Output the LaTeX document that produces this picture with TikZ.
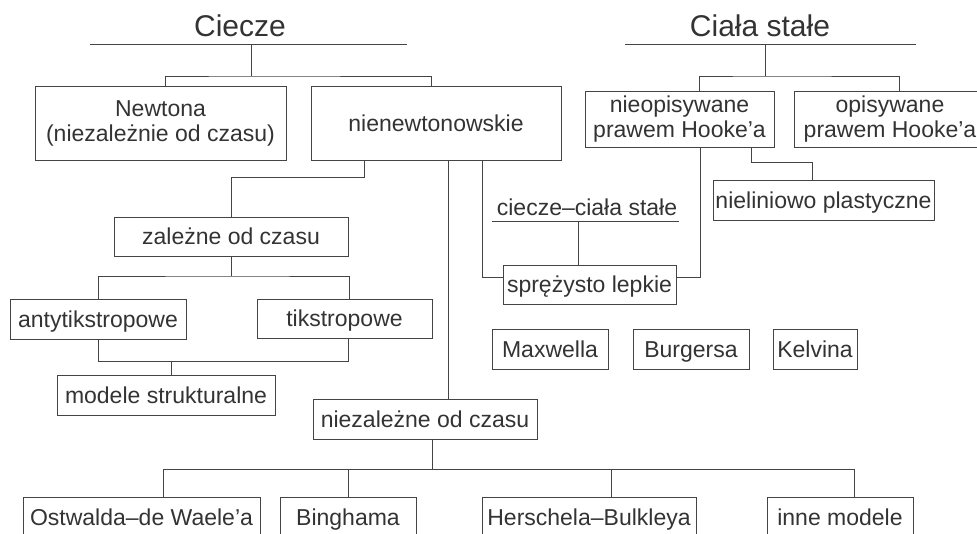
\documentclass[tikz,border=0pt]{standalone}
\usepackage{fontspec}
\setmainfont{Liberation Sans}
\definecolor{ink}{HTML}{333333}
\definecolor{wire}{HTML}{444444}
\tikzset{
  twobox/.style={draw=wire, line width=1pt, inner sep=0pt, align=center, text=ink,
    font=\fontsize{23}{25}\selectfont},
  box/.style={twobox, text height=16.5pt, text depth=0pt},
  title/.style={text=ink, inner sep=0pt, anchor=base, font=\fontsize{30}{32}\selectfont},
  label/.style={text=ink, inner sep=0pt, anchor=base, font=\fontsize{23}{25}\selectfont},
}
\begin{document}
\begin{tikzpicture}[x=1pt, y=-1pt, wire, line width=1pt]
    \useasboundingbox (0,0) rectangle (977,533);
    % titles
    \node[title] (ciecze) at (240,36) {Ciecze};
    \node[title] (cialo) at (760,36) {Ciała stałe};
    \node[label] (cc) at (587,215) {ciecze--ciała stałe};
    \draw (90,44) -- (407,44);
    \draw (625,44) -- (916,44);
    \draw (492,221) -- (679,221);
    \coordinate (cbar) at (251,44);
    \coordinate (sbar) at (765,44);
    \coordinate (ccbar) at (578,221);
    % boxes
    \node[twobox, minimum width=251, minimum height=74] (newton) at (160.5,123) {Newtona\\(niezależnie od czasu)};
    \node[box, minimum width=250, minimum height=74] (nienewt) at (436,123) {nienewtonowskie};
    \node[twobox, minimum width=189, minimum height=56] (nieop) at (679.5,119) {nieopisywane\\prawem Hooke’a};
    \node[twobox, minimum width=192, minimum height=56] (op) at (890,119) {opisywane\\prawem Hooke’a};
    \node[box, minimum width=221, minimum height=40] (nielin) at (823.5,200) {nieliniowo plastyczne};
    \node[box, minimum width=234, minimum height=39] (zalezne) at (231,236.5) {zależne od czasu};
    \node[box, minimum width=176, minimum height=40] (antyt) at (98,319) {antytikstropowe};
    \node[box, minimum width=175, minimum height=39] (tiks) at (344.5,318.5) {tikstropowe};
    \node[box, minimum width=218, minimum height=40] (modele) at (166,395) {modele strukturalne};
    \node[box, minimum width=173, minimum height=39] (sprez) at (589.5,284.5) {sprężysto lepkie};
    \node[box, minimum width=116, minimum height=40] (maxw) at (550,349) {Maxwella};
    \node[box, minimum width=116, minimum height=40] (burg) at (691,349) {Burgersa};
    \node[box, minimum width=84, minimum height=40] (kelv) at (815,349) {Kelvina};
    \node[box, minimum width=224, minimum height=40] (niezal) at (425,419) {niezależne od czasu};
    \node[box, minimum width=237, minimum height=40] (ostw) at (141.5,517) {Ostwalda--de Waele’a};
    \node[box, minimum width=136, minimum height=40] (bing) at (348,517) {Binghama};
    \node[box, minimum width=214, minimum height=40] (hersch) at (589,517) {Herschela--Bulkleya};
    \node[box, minimum width=146, minimum height=40] (inne) at (840,517) {inne modele};
    % connectors
    \draw (cbar) -- ++(0,32) coordinate (cs);
    \draw ([xshift=5]newton.north) |- (cs) -| ([xshift=-5]nienewt.north);
    \draw (sbar) -- ++(0,32) coordinate (ss);
    \draw ([xshift=19.5]nieop.north) |- (ss) -| ([xshift=9]op.north);
    \draw ([xshift=-72]nienewt.south) -- ++(0,17) -| (zalezne.north);
    \draw ([xshift=12]nienewt.south) -- ([xshift=23]niezal.north);
    \draw ([xshift=46]nienewt.south) |- ([yshift=7.5]sprez.west);
    \draw ([xshift=20.5]nieop.south) |- ([yshift=7.5]sprez.east);
    \draw ([xshift=71.5]nieop.south) -- ++(0,15) -| ([xshift=-11.5]nielin.north);
    \draw (ccbar) -- ([xshift=-11.5]sprez.north);
    \draw (zalezne.south) -- ++(0,19.5) coordinate (zs);
    \draw (antyt.north) |- (zs) -| ([xshift=4.5]tiks.north);
    \draw (antyt.south) -- ++(0,22) -| ([xshift=3.5]tiks.south);
    \draw ([xshift=5]modele.north) -- ++(0,-14);
    \draw ([xshift=7]niezal.south) -- ++(0,30) coordinate (nz);
    \draw ([xshift=21.5]ostw.north) |- (nz) -| ([xshift=14]inne.north);
    \foreach \n/\s in {bing/0, hersch/22}
        \draw ([xshift=\s]\n.north) -- ++(0,-28);
\end{tikzpicture}
\end{document}
